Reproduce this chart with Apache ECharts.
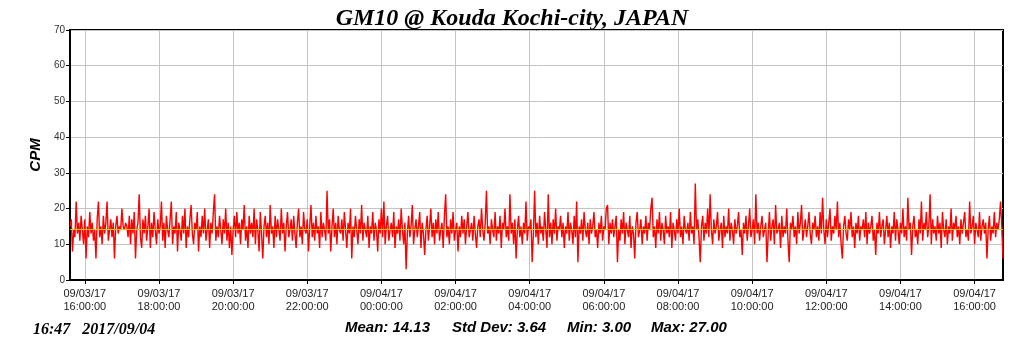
<!DOCTYPE html>
<html>
<head>
<meta charset="utf-8">
<script src="https://cdn.jsdelivr.net/npm/echarts@6/dist/echarts.min.js"></script>
<style>
  html, body { margin: 0; padding: 0; background: #fff; }
  #chart { width: 1024px; height: 351px; }
</style>
</head>
<body>
<div id="chart"></div>
<script>
// readings: one value every 2 minutes from 09/03/17 15:36
const startTime = [2017, 8, 3, 15, 36]
const stepMinutes = 2
const cpm = [
  15,17,8,14,12,22,13,16,11,18,14,10,17,6,15,12,19,13,16,11,
  14,6,17,22,12,15,10,18,13,16,22,11,14,17,12,16,6,15,18,13,
  15,14,20,15,14,16,15,12,18,10,17,13,19,6,14,16,24,12,9,17,
  13,18,11,15,20,9,16,12,19,14,10,17,13,15,22,11,16,9,18,14,
  12,17,22,10,15,13,19,8,16,14,11,18,13,20,9,15,12,17,21,13,
  10,16,14,19,8,15,12,18,13,20,11,14,17,9,16,13,19,24,11,15,
  12,18,14,10,17,13,20,11,16,9,15,7,14,18,12,19,13,16,10,17,
  14,21,11,15,9,18,13,16,12,20,10,17,14,8,19,13,6,15,18,12,
  16,10,21,13,15,9,18,12,17,14,11,20,13,16,8,15,19,12,14,17,
  11,18,13,9,16,20,12,15,10,19,14,13,17,8,15,21,12,16,11,18,
  13,15,9,19,12,16,14,11,25,13,17,8,15,20,12,16,10,18,14,13,
  17,11,19,14,9,16,13,20,6,15,12,18,14,10,17,13,21,11,16,14,
  12,18,9,15,13,19,11,16,14,8,17,13,20,12,22,10,15,18,11,14,
  16,12,19,9,15,13,17,11,20,14,10,16,3,13,18,12,15,21,10,14,
  17,12,15,19,9,16,13,7,14,18,11,15,20,12,16,10,17,13,19,11,
  14,16,9,18,24,12,15,10,17,13,19,11,14,16,8,15,12,18,13,17,
  10,15,19,12,14,16,11,18,13,9,15,17,12,20,14,11,16,25,13,15,
  10,17,14,12,19,11,15,13,18,9,16,14,20,12,15,11,24,13,16,10,
  17,6,14,18,12,15,10,16,13,22,11,15,14,17,5,13,25,12,16,10,
  18,13,15,11,19,14,9,24,12,16,10,17,13,20,11,15,14,18,12,16,
  9,15,13,19,11,16,14,10,18,12,22,5,15,13,17,11,19,14,12,16,
  10,17,13,15,19,12,14,9,16,13,18,11,15,14,20,21,10,16,13,17,
  12,15,18,5,14,11,17,13,19,10,16,14,12,18,9,15,13,6,16,19,
  12,14,17,10,15,13,18,11,16,14,20,23,12,15,9,17,13,19,11,16,
  14,10,18,13,15,12,19,9,16,14,11,17,13,20,12,15,10,18,14,13,
  16,11,19,13,15,10,27,14,17,12,5,15,18,11,16,13,20,12,24,14,
  10,17,13,15,19,11,14,16,9,18,12,15,13,20,11,16,14,10,17,13,
  15,19,12,14,7,16,13,18,11,15,20,12,14,17,10,24,13,16,11,15,
  18,12,14,16,5,13,19,11,15,17,10,21,13,14,16,9,18,12,15,13,
  20,11,5,16,14,18,12,15,10,19,13,16,21,11,14,17,12,15,19,13,
  10,16,14,18,12,15,11,19,13,23,14,10,17,12,16,20,11,15,13,18,
  14,22,12,16,10,6,15,18,13,11,17,14,19,12,15,9,16,13,18,11,
  15,14,17,12,19,10,16,13,15,18,11,14,7,16,13,19,12,15,17,10,
  14,18,12,16,9,15,13,19,11,17,14,10,16,13,20,12,15,11,23,14,
  16,7,15,18,12,14,10,17,13,22,11,16,14,19,12,15,24,10,17,13,
  15,11,18,13,16,9,19,14,12,17,10,15,13,20,11,16,14,18,12,15,
  10,17,13,16,19,12,14,11,22,13,15,18,10,16,14,12,19,11,15,17,
  13,16,6,14,18,11,15,13,19,12,16,14,17,22,15,6
]
const tickLabels = [
  '09/03/17\n16:00:00', '09/03/17\n18:00:00', '09/03/17\n20:00:00', '09/03/17\n22:00:00',
  '09/04/17\n00:00:00', '09/04/17\n02:00:00', '09/04/17\n04:00:00', '09/04/17\n06:00:00',
  '09/04/17\n08:00:00', '09/04/17\n10:00:00', '09/04/17\n12:00:00', '09/04/17\n14:00:00',
  '09/04/17\n16:00:00'
]
const meanValue = 14.13
const statLabels = ['Mean: 14.13', 'Std Dev: 3.64', 'Min: 3.00', 'Max: 27.00']
const stampLabel = '16:47   2017/09/04'

function pad(n) { return (n < 10 ? '0' : '') + n }
const t0 = new Date(startTime[0], startTime[1], startTime[2], startTime[3], startTime[4]).getTime()
const times = cpm.map((v, i) => {
  const d = new Date(t0 + i * stepMinutes * 60000)
  return pad(d.getMonth() + 1) + '/' + pad(d.getDate()) + '/' + pad(d.getFullYear() % 100) +
    '\n' + pad(d.getHours()) + ':' + pad(d.getMinutes()) + ':00'
})
const showTick = (idx, val) => tickLabels.indexOf(val) >= 0

var myChart = echarts.init(document.getElementById('chart'))
var statX = [345, 452, 567, 651]
var option = {
  animation: false,
  title: {
    text: 'GM10 @ Kouda Kochi-city, JAPAN',
    left: 'center',
    top: 2,
    textStyle: {
      fontFamily: 'Liberation Serif',
      fontStyle: 'italic',
      fontWeight: 'bold',
      fontSize: 24,
      color: '#000'
    }
  },
  grid: {
    left: 70, right: 21, top: 30, bottom: 71,
    show: true,
    borderColor: '#000',
    borderWidth: 2
  },
  xAxis: {
    type: 'category',
    data: times,
    boundaryGap: false,
    axisLine: { lineStyle: { color: '#000', width: 2 } },
    axisTick: { interval: showTick, length: 4, lineStyle: { color: '#000' } },
    axisLabel: {
      interval: showTick,
      fontFamily: 'Liberation Sans',
      fontSize: 11,
      lineHeight: 13,
      color: '#222',
      margin: 7
    },
    splitLine: { show: true, interval: showTick, lineStyle: { color: '#c4c4c4', width: 1 } }
  },
  yAxis: {
    type: 'value',
    min: 0, max: 70, interval: 10,
    name: 'CPM',
    nameLocation: 'middle',
    nameGap: 24,
    nameTextStyle: {
      fontFamily: 'Liberation Sans',
      fontStyle: 'italic',
      fontWeight: 'bold',
      fontSize: 15,
      color: '#000'
    },
    axisLine: { show: true, lineStyle: { color: '#000', width: 2 } },
    axisTick: { show: true, length: 4, lineStyle: { color: '#000' } },
    axisLabel: { fontFamily: 'Liberation Sans', fontSize: 10, color: '#333', margin: 5 },
    splitLine: { lineStyle: { color: '#c4c4c4', width: 1 } }
  },
  series: [
    {
      name: 'CPM',
      type: 'line',
      data: cpm,
      showSymbol: false,
      sampling: false,
      lineStyle: { color: '#ff0000', width: 1.4 },
      z: 2
    },
    {
      name: 'mean',
      type: 'line',
      data: [],
      z: 3,
      markLine: {
        silent: true,
        symbol: 'none',
        label: { show: false },
        lineStyle: { color: '#d8cc00', width: 1, type: 'solid' },
        data: [{ yAxis: meanValue }]
      }
    }
  ],
  graphic: [
    {
      type: 'text', left: 33, top: 322,
      style: {
        text: stampLabel,
        font: 'italic bold 16px "Liberation Serif"',
        fill: '#000'
      }
    }
  ].concat(statLabels.map((s, i) => ({
    type: 'text', left: statX[i], top: 320,
    style: {
      text: s,
      font: 'italic bold 15px "Liberation Sans"',
      fill: '#000'
    }
  })))
}
myChart.setOption(option)
</script>
</body>
</html>
